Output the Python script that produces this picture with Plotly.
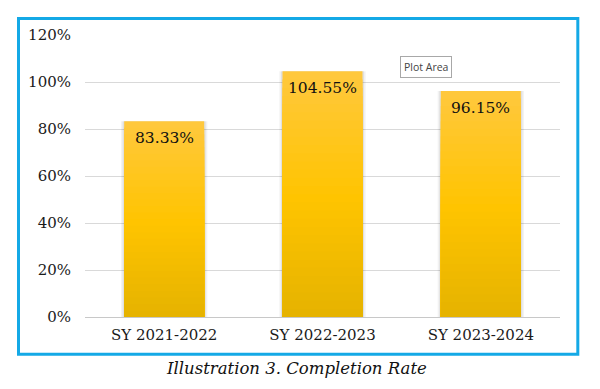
import plotly.graph_objects as go

categories = ["SY 2021-2022", "SY 2022-2023", "SY 2023-2024"]
rates = [83.33, 104.55, 96.15]
labels = ["83.33%", "104.55%", "96.15%"]
y_ticks = [0, 20, 40, 60, 80, 100, 120]
y_tick_labels = ["0%", "20%", "40%", "60%", "80%", "100%", "120%"]

SERIF = "DejaVu Serif"

def lerp(c1, c2, t):
    return tuple(int(round(a + (b - a) * t)) for a, b in zip(c1, c2))

top_c = (255, 200, 60)
mid_c = (255, 196, 0)
bot_c = (228, 178, 0)

fig = go.Figure()

# soft shadow behind bars
for w, a in [(0.545, 0.05), (0.525, 0.07)]:
    fig.add_trace(go.Bar(x=categories, y=rates, width=w,
                         marker=dict(color=f"rgba(0,0,0,{a})", line=dict(width=0)),
                         hoverinfo="skip", showlegend=False))

# vertical gradient: tallest (lightest) first, shorter darker ones overlaid
N = 30
for k in range(N, 0, -1):
    f = k / N
    if f > 0.5:
        col = lerp(mid_c, top_c, (f - 0.5) / 0.5)
    else:
        col = lerp(bot_c, mid_c, f / 0.5)
    fig.add_trace(go.Bar(x=categories, y=[v * f for v in rates], width=0.505,
                         marker=dict(color="rgb(%d,%d,%d)" % col, line=dict(width=0)),
                         hoverinfo="skip", showlegend=False))

annotations = [
    dict(x=c, y=v, xref="x", yref="y", text=t, showarrow=False,
         xanchor="center", yanchor="top", yshift=-6,
         font=dict(family=SERIF, size=15.5, color="#111"))
    for c, v, t in zip(categories, rates, labels)
]
annotations += [
    dict(text="Illustration 3. Completion Rate", xref="paper", yref="paper",
         x=0.446, y=-0.184, showarrow=False, xanchor="center", yanchor="middle",
         font=dict(family=SERIF, size=16.5, color="#111", style="italic")),
    dict(text="Plot Area", xref="paper", yref="paper",
         x=0.718, y=0.8865, showarrow=False, xanchor="center", yanchor="middle",
         font=dict(family="Open Sans", size=10.5, color="#444"),
         bgcolor="white", bordercolor="#A8A8A8", borderwidth=1, borderpad=3),
]

fig.update_layout(
    width=600, height=389,
    margin=dict(l=85, r=40, t=35, b=72),
    paper_bgcolor="white", plot_bgcolor="white",
    barmode="overlay",
    font=dict(family=SERIF, size=15, color="#1a1a1a"),
    xaxis=dict(showgrid=False, zeroline=False, showline=False, ticks="",
               tickfont=dict(family=SERIF, size=15, color="#1a1a1a"),
               ticklabelstandoff=7, fixedrange=True, automargin=False),
    yaxis=dict(range=[0, 120], tickvals=y_ticks, ticktext=y_tick_labels,
               showgrid=True, gridcolor="#D9D9D9", gridwidth=1,
               zeroline=True, zerolinecolor="#C8C8C8", zerolinewidth=1,
               showline=False, ticks="", ticklabelstandoff=13,
               tickfont=dict(family=SERIF, size=15, color="#1a1a1a"),
               fixedrange=True, automargin=False),
    shapes=[dict(type="rect", xref="paper", yref="paper",
                 x0=-0.14, x1=1.0375, y0=-0.1319, y1=1.0585,
                 line=dict(color="#14A9E6", width=3), layer="above")],
    annotations=annotations,
)

fig.write_html("out.html", config={"displayModeBar": False},
               post_script="document.body.style.margin='0';")
